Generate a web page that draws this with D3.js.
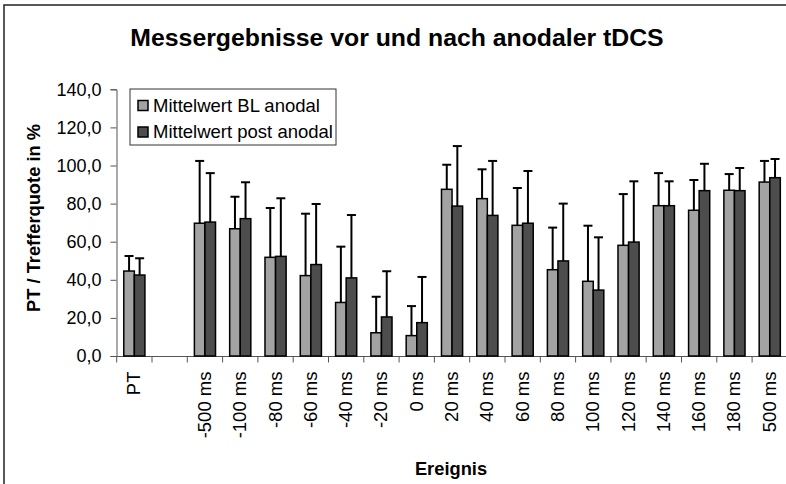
<!DOCTYPE html>
<html>
<head>
<meta charset="utf-8">
<script src="https://cdn.jsdelivr.net/npm/d3@7"></script>
<style>
  body { margin: 0; background: #fff; }
  svg { display: block; font-family: 'Liberation Sans', Arial, sans-serif; }
</style>
</head>
<body>
<div id="chart"></div>
<script>
const categories = ['PT', '', '-500 ms', '-100 ms', '-80 ms', '-60 ms', '-40 ms', '-20 ms', '0 ms',
  '20 ms', '40 ms', '60 ms', '80 ms', '100 ms', '120 ms', '140 ms', '160 ms', '180 ms', '500 ms'];
const seriesNames = ['Mittelwert BL anodal', 'Mittelwert post anodal'];
// Mittelwerte (null = keine Daten)
const meanBL = [44.6, null, 69.7, 66.8, 51.8, 42.2, 28.1, 12.2, 10.7, 87.5, 82.6, 68.6, 45.3, 39.2, 58.1, 78.9, 76.5, 87.0, 91.3];
const meanPost = [42.5, null, 70.3, 72.1, 52.3, 48.0, 41.0, 20.5, 17.5, 78.7, 73.8, 69.7, 49.9, 34.6, 59.8, 78.9, 86.8, 86.8, 93.6];
// Standardabweichungen (nur nach oben gezeichnet)
const sdBL = [7.9, null, 32.7, 16.8, 25.9, 32.5, 29.3, 18.9, 15.5, 12.9, 15.4, 19.6, 22.1, 29.2, 26.9, 17.1, 15.9, 8.5, 11.1];
const sdPost = [8.8, null, 25.7, 19.1, 30.5, 31.8, 33.0, 24.0, 24.0, 31.5, 28.6, 27.4, 30.1, 27.7, 31.9, 12.8, 14.1, 11.9, 9.8];
const yTicks = [0, 20, 40, 60, 80, 100, 120, 140];
const colors = ['#a3a3a3', '#4d4d4d'];

const width = 786, height = 484;
const svg = d3.select('#chart').append('svg').attr('width', width).attr('height', height);

// Rahmen
svg.append('rect')
  .attr('x', 4).attr('y', 5)
  .attr('width', 800).attr('height', 500)
  .attr('fill', 'none').attr('stroke', '#222').attr('stroke-width', 1.5);

const x0 = d3.scaleBand().domain(d3.range(categories.length)).range([116.7, 787.4]).paddingInner(0).paddingOuter(0);
const x1 = d3.scaleBand().domain([0, 1]).range([0, x0.bandwidth()]).paddingInner(0).paddingOuter(0.67);
const y = d3.scaleLinear().domain([0, 140]).range([356, 89.3]);

const fmt = (d) => d.toFixed(1).replace('.', ',');

// Y-Achse
const yAxis = svg.append('g')
  .attr('transform', 'translate(116.5,0)')
  .call(d3.axisLeft(y).tickValues(yTicks).tickFormat(fmt).tickSize(6).tickPadding(9));
yAxis.select('.domain').attr('stroke', '#555');
yAxis.selectAll('.tick line').attr('stroke', '#555');
yAxis.selectAll('text').attr('font-size', 18).attr('fill', '#000').attr('font-family', "'Liberation Sans', Arial, sans-serif");

// X-Achse (Ticks zwischen Kategorien)
const xAxisG = svg.append('g').attr('transform', 'translate(0,356.5)');
xAxisG.append('line').attr('x1', x0.range()[0]).attr('x2', x0.range()[1]).attr('stroke', '#555');
xAxisG.selectAll('line.tk')
  .data(d3.range(categories.length + 1))
  .enter().append('line')
  .attr('class', 'tk')
  .attr('x1', (i) => x0.range()[0] + i * x0.step())
  .attr('x2', (i) => x0.range()[0] + i * x0.step())
  .attr('y1', 0).attr('y2', 6)
  .attr('stroke', '#555');
xAxisG.selectAll('text')
  .data(categories)
  .enter().append('text')
  .attr('transform', (d, i) => 'translate(' + (x0(i) + x0.bandwidth() / 2 + 6) + ',15) rotate(-90)')
  .attr('text-anchor', 'end')
  .attr('font-size', 18.5)
  .text((d) => d);

// Balken
const rows = categories.map((c, i) => ({ i, vals: [meanBL[i], meanPost[i]], sds: [sdBL[i], sdPost[i]] }));
const groups = svg.append('g').selectAll('g')
  .data(rows)
  .enter().append('g')
  .attr('transform', (d) => 'translate(' + x0(d.i) + ',0)');

const items = groups.selectAll('g.item')
  .data((d) => d.vals.map((v, s) => ({ s, v, sd: d.sds[s] })).filter((e) => e.v != null))
  .enter().append('g').attr('class', 'item');

items.append('rect')
  .attr('x', (d) => x1(d.s))
  .attr('y', (d) => y(d.v))
  .attr('width', x1.bandwidth())
  .attr('height', (d) => y(0) - y(d.v))
  .attr('fill', (d) => colors[d.s])
  .attr('stroke', '#000')
  .attr('stroke-width', 1.5);

items.append('line')
  .attr('x1', (d) => x1(d.s) + x1.bandwidth() / 2)
  .attr('x2', (d) => x1(d.s) + x1.bandwidth() / 2)
  .attr('y1', (d) => y(d.v))
  .attr('y2', (d) => y(d.v + d.sd))
  .attr('stroke', '#000').attr('stroke-width', 2);

items.append('line')
  .attr('x1', (d) => x1(d.s) + x1.bandwidth() / 2 - 4.5)
  .attr('x2', (d) => x1(d.s) + x1.bandwidth() / 2 + 4.5)
  .attr('y1', (d) => y(d.v + d.sd))
  .attr('y2', (d) => y(d.v + d.sd))
  .attr('stroke', '#000').attr('stroke-width', 2);

// Titel
svg.append('text')
  .attr('x', 397).attr('y', 46)
  .attr('text-anchor', 'middle')
  .attr('font-size', 24.8).attr('font-weight', 'bold')
  .text('Messergebnisse vor und nach anodaler tDCS');

// Achsentitel
svg.append('text')
  .attr('transform', 'translate(40,218) rotate(-90)')
  .attr('text-anchor', 'middle')
  .attr('font-size', 18.3).attr('font-weight', 'bold')
  .text('PT / Trefferquote in %');

svg.append('text')
  .attr('x', 451).attr('y', 475)
  .attr('text-anchor', 'middle')
  .attr('font-size', 18.3).attr('font-weight', 'bold')
  .text('Ereignis');

// Legende
const legend = svg.append('g').attr('transform', 'translate(130,89)');
legend.append('rect')
  .attr('width', 206).attr('height', 56)
  .attr('fill', '#fff').attr('stroke', '#333').attr('stroke-width', 1);
const li = legend.selectAll('g.li')
  .data(seriesNames)
  .enter().append('g').attr('class', 'li')
  .attr('transform', (d, i) => 'translate(0,' + (16.5 + i * 26.5) + ')');
li.append('rect')
  .attr('x', 8).attr('y', -5).attr('width', 10).attr('height', 10)
  .attr('fill', (d, i) => colors[i]).attr('stroke', '#000').attr('stroke-width', 1.5);
li.append('text')
  .attr('x', 23).attr('dy', '0.35em')
  .attr('font-size', 18.5)
  .text((d) => d);
</script>
</body>
</html>
